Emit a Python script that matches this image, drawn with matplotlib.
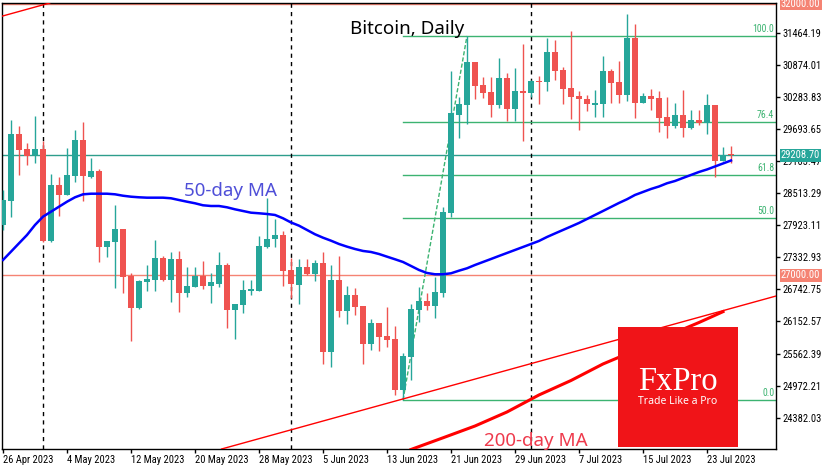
import pandas as pd
import matplotlib
matplotlib.use("Agg")
import matplotlib.pyplot as plt
import matplotlib.dates as mdates
from matplotlib import font_manager
from matplotlib.patches import Rectangle

# daily BTC candles, 26 Apr - 26 Jul 2023
dates = pd.date_range("2023-04-26", "2023-07-26", freq="D")

opens = [27926, 28373, 29600, 29324, 29214, 29324, 27637, 28662, 28478, 28828,
         29490, 28815, 28920, 27527, 27619, 27852, 26993, 26404, 26883, 26914,
         27319, 26914, 27300, 26680, 26791, 26993, 26804, 26840, 27190, 26362,
         26454, 26717, 26717, 27527, 27663, 27742, 27098, 26822, 27148, 27024,
         27232, 25595, 26914, 26349, 26638, 26436, 25736, 26117, 25884, 25828,
         24890, 25503, 26362, 26533, 26436, 26680, 28152, 29950, 30134, 30925,
         30502, 30373, 30134, 30625, 30060, 30397, 30360, 30581, 30563, 31109,
         30778, 30447, 30300, 30250, 30134, 30152, 30760, 30557, 30318, 31372,
         30176, 30300, 30263, 29919, 29748, 29950, 29705, 29858, 29808, 30134,
         29104, 29218]
highs = [28570, 29858, 29748, 29429, 29932, 29477, 28864, 28804, 29337, 29674,
         29821, 29153, 28956, 27632, 28294, 27860, 27048, 26914, 27190, 27650,
         27356, 27429, 27453, 27148, 27148, 27264, 27048, 27435, 27221, 26480,
         26914, 26914, 27724, 28417, 28036, 27816, 27313, 27300, 27300, 27282,
         27435, 27190, 27356, 26804, 26772, 26445, 26191, 26125, 26423, 26073,
         25565, 26472, 26780, 26669, 26975, 28252, 30760, 30287, 31404, 30930,
         30644, 30644, 30993, 30728, 30809, 31256, 30590, 30668, 31361, 31330,
         30839, 31496, 30397, 30318, 30410, 31036, 30791, 30944, 31808, 31624,
         30360, 30423, 30397, 30276, 30165, 30410, 30042, 30042, 30336, 30140,
         29367, 29380]
lows = [27834, 28073, 28846, 29030, 29072, 27620, 27620, 28092, 28470, 28723,
        28373, 28800, 27251, 27337, 26761, 26680, 25797, 26390, 26717, 26717,
        26900, 26515, 26331, 26607, 26780, 26743, 26496, 26780, 26025, 25828,
        26301, 26638, 26710, 27497, 27527, 26809, 26577, 26472, 27010, 26896,
        25368, 25319, 26239, 26104, 26270, 25368, 25626, 25608, 25687, 24798,
        24706, 25074, 26147, 26362, 26220, 26607, 28079, 29532, 29784, 30239,
        30268, 29919, 30073, 29845, 29845, 29477, 30287, 30152, 30397, 30594,
        30152, 29871, 29674, 30024, 29919, 29919, 30165, 30165, 30208, 29900,
        30170, 30042, 29643, 29521, 29705, 29551, 29700, 29766, 29600, 28815,
        29100, 29061]
closes = [28386, 29600, 29306, 29201, 29324, 27637, 28662, 28478, 28846, 29490,
          28828, 28920, 27527, 27632, 27852, 26975, 26404, 26896, 26932, 27319,
          26914, 27300, 26680, 26804, 26993, 26804, 26877, 27190, 26362, 26472,
          26730, 26743, 27545, 27668, 27742, 27085, 26835, 27148, 27024, 27232,
          25595, 26914, 26349, 26638, 26423, 25736, 26117, 25871, 25810, 24890,
          25516, 26380, 26533, 26436, 26699, 28165, 29981, 30152, 30925, 30484,
          30360, 30134, 30625, 30060, 30397, 30360, 30576, 30557, 31109, 30765,
          30434, 30287, 30239, 30147, 30171, 30760, 30544, 30324, 31372, 30176,
          30300, 30244, 29900, 29748, 29950, 29705, 29858, 29808, 30134, 29104,
          29214, 29208.7]

ma50 = [27283, 27436, 27590, 27743, 27927, 28080, 28171, 28263, 28355, 28436,
        28491, 28502, 28502, 28502, 28491, 28465, 28447, 28436, 28429, 28429,
        28429, 28418, 28386, 28355, 28326, 28289, 28276, 28276, 28252, 28215,
        28184, 28153, 28142, 28129, 28111, 28050, 27973, 27914, 27835, 27756,
        27693, 27638, 27577, 27528, 27485, 27449, 27430, 27393, 27344, 27296,
        27246, 27173, 27099, 27044, 27020, 27020, 27038, 27086, 27130, 27191,
        27246, 27301, 27357, 27412, 27467, 27522, 27577, 27633, 27706, 27771,
        27835, 27899, 27964, 28037, 28111, 28184, 28258, 28332, 28400, 28479,
        28534, 28589, 28635, 28694, 28736, 28792, 28847, 28902, 28948, 29003,
        29058, 29113]

ma200_dates = ["2023-06-16", "2023-06-20", "2023-06-24", "2023-06-28", "2023-07-02",
               "2023-07-06", "2023-07-10", "2023-07-14", "2023-07-18", "2023-07-22",
               "2023-07-25"]
ma200 = [23797, 24012, 24229, 24487, 24800, 25066, 25370, 25618, 25885, 26133, 26332]

yticks = [31464.19, 30874.01, 30283.83, 29693.65, 29103.47, 28513.29, 27923.11,
          27332.93, 26742.75, 26152.57, 25562.39, 24972.21, 24382.03]
xtick_dates = ["2023-04-26", "2023-05-04", "2023-05-12", "2023-05-20", "2023-05-28",
               "2023-06-05", "2023-06-13", "2023-06-21", "2023-06-29", "2023-07-07",
               "2023-07-15", "2023-07-23"]
month_lines = ["2023-05-01", "2023-06-01", "2023-07-01"]

fib_pcts = [0.0, 50.0, 61.8, 76.4, 100.0]
fib_low, fib_high = 24706, 31404
fib_start, fib_end = "2023-06-15", "2023-06-23"

# channel lines (two points each)
chan_low = [("2023-06-14 20:00", 24720), ("2023-07-31 15:00", 26620)]
chan_high = [("2023-04-25 23:00", 31771), ("2023-05-02 02:00", 32020)]

GREEN = "#26a69a"
RED = "#ef5350"
FIB = "#3cb371"
SALMON = "#f58373"

# narrow font for the axis text, if there is one
have = {f.name for f in font_manager.fontManager.ttflist}
NARROW = "Liberation Sans"
for cand in ["Liberation Sans Narrow", "Roboto Condensed", "Open Sans Condensed",
             "Noto Sans Condensed"]:
    if cand in have:
        NARROW = cand
        break
small = 7.6 if NARROW != "Liberation Sans" else 7.0

fig = plt.figure(figsize=(8.35, 4.7), dpi=100)
ax = fig.add_axes([2 / 835, 1 - 449 / 470, 774 / 835, 446 / 470])

x = mdates.date2num(dates)
d0 = x[0]

# horizontal levels
ax.axhline(32000, color=SALMON, lw=1, zorder=1)
ax.axhline(27000, color=SALMON, lw=1, zorder=1)
ax.axhline(29208.70, color="#2e9e8c", lw=1, zorder=1)

for m in month_lines:
    ax.axvline(mdates.datestr2num(m), color="black", lw=1, ls=(0, (3, 3)), zorder=1)

# fibo
xf0 = mdates.datestr2num(fib_start)
xf1 = mdates.datestr2num(fib_end)
for p in fib_pcts:
    lvl = fib_low + (fib_high - fib_low) * p / 100
    ax.plot([xf0, d0 + 97], [lvl, lvl], color=FIB, lw=1, zorder=2)
    ax.text(d0 + 96.4, lvl + 40, "%.1f" % p, color=FIB, fontsize=small - 0.6, family=NARROW,
            ha="right", va="bottom", zorder=5)
ax.plot([xf0, xf1], [fib_low, fib_high], color=FIB, lw=1, ls=(0, (3, 1.5)), zorder=2)

# candles
for xi, o, h, l, c in zip(x, opens, highs, lows, closes):
    col = GREEN if c >= o else RED
    ax.plot([xi, xi], [l, h], color=col, lw=1, zorder=3, solid_capstyle="butt")
    bh = max(abs(c - o), 20)
    ax.add_patch(Rectangle((xi - 0.33, min(o, c)), 0.66, bh, fc=col, ec="none", zorder=3))

# moving averages and channel
ax.plot(x, ma50, color="#0000ff", lw=1.8, zorder=4)
ax.plot(mdates.datestr2num(ma200_dates), ma200, color="#ff0000", lw=2.2, zorder=4)
for pts in (chan_low, chan_high):
    (a, pa), (b, pb) = pts
    ax.axline((mdates.datestr2num(a), pa), (mdates.datestr2num(b), pb),
              color="#ff0000", lw=1, zorder=4)

ax.set_xlim(d0 - 0.125, d0 + 96.625)
ax.set_ylim(23806, 32010)

# axes styling
for s in ax.spines.values():
    s.set_color("black")
    s.set_linewidth(1)
ax.yaxis.tick_right()
ax.set_yticks(yticks)
ax.set_yticklabels(["%.2f" % t for t in yticks])
xt = mdates.datestr2num(xtick_dates)
ax.set_xticks(xt)
ax.set_xticklabels(["%d %s" % (d.day, d.strftime("%b %Y")) for d in pd.to_datetime(xtick_dates)])
for lab in ax.get_xticklabels():
    lab.set_horizontalalignment("left")
ax.tick_params(axis="both", length=3, width=1, color="black", labelsize=small, pad=1.5)
for lab in ax.get_xticklabels() + ax.get_yticklabels():
    lab.set_family(NARROW)

# price tags on the right
for val, col in [(32000, SALMON), (29208.70, GREEN), (27000, SALMON)]:
    ax.annotate("%.2f" % val, xy=(1, val), xycoords=ax.get_yaxis_transform(),
                xytext=(3.5, 0), textcoords="offset points", ha="left", va="center",
                color="white", fontsize=small, family=NARROW,
                bbox=dict(boxstyle="square,pad=0.12", fc=col, ec="none"),
                annotation_clip=False)

# labels
fig.text(350 / 835, 1 - 34 / 470, "Bitcoin, Daily", fontsize=13.5, family="Noto Sans",
         color="black", va="baseline", ha="left")
fig.text(184 / 835, 1 - 196.5 / 470, "50-day MA", fontsize=13.5, family="Noto Sans",
         color="#4f4fd8", va="baseline", ha="left")
fig.text(484 / 835, 1 - 445.5 / 470, "200-day MA", fontsize=13.5, family="Noto Sans",
         color="#ee3a4c", va="baseline", ha="left")

# FxPro logo
fig.patches.append(Rectangle((618 / 835, 1 - 447 / 470), 120 / 835, 120 / 470,
                             transform=fig.transFigure, fc="#f01418", ec="none", zorder=10))
fig.text(678 / 835, 1 - 390 / 470, "FxPro", fontsize=23.5, family="Liberation Serif",
         color="white", ha="center", va="baseline", zorder=11)
fig.text(678 / 835, 1 - 401.5 / 470, "Trade Like a Pro", fontsize=7.5, family="Noto Sans",
         color="white", ha="center", va="center", zorder=11)

fig.savefig("out.png", dpi=100)
